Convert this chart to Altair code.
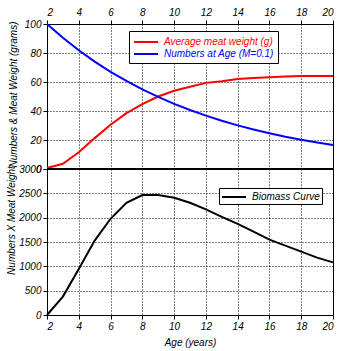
import altair as alt
import pandas as pd

ages = list(range(2, 21))
meat_weight = [0.7, 3.6, 11.5, 21.3, 30.5, 38.5, 44.7, 50.0, 54.0, 56.7, 59.4,
               60.5, 62.0, 62.8, 63.3, 63.8, 64.2, 64.2, 64.2]
numbers_at_age = [100, 90.5, 81.9, 74.1, 67.0, 60.7, 54.9, 49.7, 44.9, 40.7,
                  36.8, 33.3, 30.1, 27.3, 24.7, 22.3, 20.2, 18.3, 16.5]
biomass = [0, 379, 943, 1529, 1977, 2307, 2466, 2466, 2410, 2307, 2169,
           2018, 1873, 1715, 1550, 1425, 1302, 1178, 1081]

s_weight = "Average meat weight (g)"
s_numbers = "Numbers at Age (M=0.1)"
s_biomass = "Biomass Curve"
x_ticks = [2, 4, 6, 8, 10, 12, 14, 16, 18, 20]
y_top_ticks = [0, 20, 40, 60, 80, 100]
y_bot_ticks = [0, 500, 1000, 1500, 2000, 2500, 3000]

FONT = "Liberation Sans"

top_df = pd.DataFrame({
    "age": ages + ages,
    "value": meat_weight + numbers_at_age,
    "series": [s_weight] * len(ages) + [s_numbers] * len(ages),
})
bot_df = pd.DataFrame({"age": ages, "value": biomass, "series": [s_biomass] * len(ages)})

common_legend = dict(
    title=None, orient="none", strokeColor="black", fillColor="white",
    symbolType="M-2,0H2", symbolSize=144, symbolStrokeWidth=2,
    symbolOffset=6, labelOffset=11,
    labelFont=FONT, labelFontStyle="italic", labelFontSize=10,
    rowPadding=0, cornerRadius=0,
)

top = alt.Chart(top_df).mark_line(strokeWidth=2).encode(
    x=alt.X("age:Q", scale=alt.Scale(domain=[2, 20], nice=False, zero=False),
            axis=alt.Axis(orient="top", values=x_ticks, title=None, labelPadding=3)),
    y=alt.Y("value:Q", scale=alt.Scale(domain=[0, 100], nice=False),
            axis=alt.Axis(values=y_top_ticks, format="d", title="Numbers & Meat Weight (grams)",
                          titleX=-34, titleY=70, titleBaseline="middle", titleAlign="center")),
    color=alt.Color("series:N",
                    scale=alt.Scale(domain=[s_weight, s_numbers], range=["#ff0000", "#0000ff"]),
                    sort=[s_weight, s_numbers],
                    legend=alt.Legend(legendX=82, legendY=7, padding=4,
                                      labelColor=alt.ExprRef(expr="datum.label == '" + s_weight + "' ? '#ff0000' : '#0000ff'"),
                                      **common_legend)),
).properties(width=286, height=145)

bot_line = alt.Chart(bot_df).mark_line(strokeWidth=2).encode(
    x=alt.X("age:Q", scale=alt.Scale(domain=[2, 20], nice=False, zero=False),
            axis=alt.Axis(orient="bottom", values=x_ticks, title="Age (years)")),
    y=alt.Y("value:Q", scale=alt.Scale(domain=[0, 3000], nice=False),
            axis=alt.Axis(values=y_bot_ticks, format="d", title="Numbers X Meat Weight",
                          titleX=-36, titleY=51, titleBaseline="middle", titleAlign="center")),
    color=alt.Color("series:N", scale=alt.Scale(domain=[s_biomass], range=["#000000"]),
                    legend=alt.Legend(legendX=172, legendY=19, padding=2, labelColor="black",
                                      **common_legend)),
)
sep = alt.Chart(bot_df).mark_rule(color="black", strokeWidth=2).encode(y=alt.value(0))
bottom = alt.layer(bot_line, sep).resolve_scale(color="independent").properties(width=286, height=146)

chart = alt.vconcat(top, bottom, spacing=0, bounds="flush").resolve_scale(color="independent").properties(
    padding={"left": 5, "top": 6, "right": 0, "bottom": 0},
    background="white",
).configure_view(stroke="black", strokeWidth=1).configure_axis(
    grid=True, gridColor="black", gridDash=[1, 2], gridWidth=1, gridOpacity=1,
    domainColor="black", domainWidth=1, tickColor="black", tickSize=4, tickWidth=1,
    labelColor="black", labelFont=FONT, labelFontStyle="italic", labelFontSize=10,
    labelPadding=2, titleFont=FONT, titleFontStyle="italic", titleFontSize=10,
    titleFontWeight="normal", titleColor="black", titlePadding=6,
).configure_legend(labelLimit=300)

chart.save("out.html", embed_options={"renderer": "svg", "actions": False})
